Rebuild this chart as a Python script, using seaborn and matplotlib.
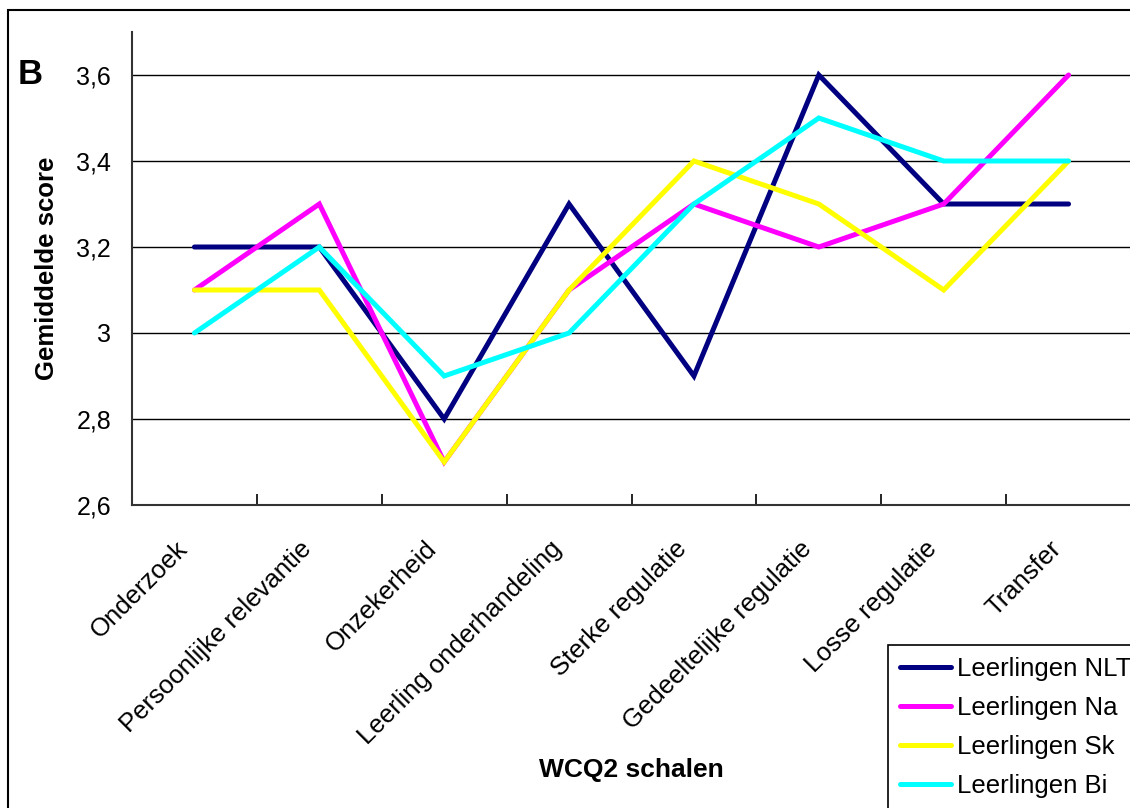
import matplotlib
matplotlib.use("Agg")
import matplotlib.pyplot as plt
import matplotlib.patches as mpatches
from matplotlib.ticker import FixedLocator, FuncFormatter
from matplotlib.transforms import ScaledTranslation
import seaborn as sns
import pandas as pd

categories = ["Onderzoek", "Persoonlijke relevantie", "Onzekerheid",
              "Leerling onderhandeling", "Sterke regulatie",
              "Gedeeltelijke regulatie", "Losse regulatie", "Transfer"]
series_names = ["Leerlingen NLT", "Leerlingen Na", "Leerlingen Sk", "Leerlingen Bi"]
nlt = [3.2, 3.2, 2.8, 3.3, 2.9, 3.6, 3.3, 3.3]
na = [3.1, 3.3, 2.7, 3.1, 3.3, 3.2, 3.3, 3.6]
sk = [3.1, 3.1, 2.7, 3.1, 3.4, 3.3, 3.1, 3.4]
bi = [3.0, 3.2, 2.9, 3.0, 3.3, 3.5, 3.4, 3.4]
y_ticks = [2.6, 2.8, 3.0, 3.2, 3.4, 3.6]
colors = ["#000080", "#FF00FF", "#FFFF00", "#00FFFF"]

rows = []
for name, vals in zip(series_names, [nlt, na, sk, bi]):
    for i, v in enumerate(vals):
        rows.append({"pos": i, "score": v, "groep": name})
df = pd.DataFrame(rows)

sns.set_theme(style="white")
plt.rcParams["font.family"] = ["Liberation Sans", "DejaVu Sans"]
plt.rcParams["text.color"] = "black"
plt.rcParams["axes.labelcolor"] = "black"
plt.rcParams["xtick.color"] = "black"
plt.rcParams["ytick.color"] = "black"

fig = plt.figure(figsize=(11.3, 8.08), dpi=100)
ax = fig.add_axes([132 / 1130, 1 - 505 / 808, 999 / 1130, 473 / 808])

sns.lineplot(data=df, x="pos", y="score", hue="groep", hue_order=series_names,
             palette=colors, linewidth=3.6, ax=ax, legend=True,
             solid_capstyle="round", solid_joinstyle="miter")

ax.set_xlim(-0.5, len(categories) - 0.5)
ax.set_ylim(2.6, 3.7)

# gridlines at the labelled values
ax.yaxis.set_major_locator(FixedLocator(y_ticks))
ax.yaxis.set_major_formatter(FuncFormatter(
    lambda v, p: ("%g" % round(v, 1)).replace(".", ",")))
ax.grid(axis="y", color="black", linewidth=1.0)
ax.set_axisbelow(True)

# category labels at the centres, tick marks between categories
ax.set_xticks(range(len(categories)))
ax.set_xticklabels(categories, rotation=45, ha="right", va="center",
                   rotation_mode="anchor")
ax.set_xticks([i - 0.5 for i in range(len(categories) + 1)], minor=True)
ax.tick_params(axis="x", which="major", length=0, pad=31, labelsize=18.5)
ax.tick_params(axis="x", which="minor", direction="in", length=8, width=1.2,
               color="black", bottom=True)
ax.tick_params(axis="y", direction="in", length=0, pad=15, labelsize=18,
               left=True)

# nudge the slanted labels slightly left and up
shift = ScaledTranslation(-11 / 100, 3 / 100, fig.dpi_scale_trans)
for lbl in ax.get_xticklabels():
    lbl.set_transform(lbl.get_transform() + shift)

for side in ["top", "right"]:
    ax.spines[side].set_visible(False)
for side in ["left", "bottom"]:
    ax.spines[side].set_color("#333333")
    ax.spines[side].set_linewidth(1.5)

ax.set_xlabel("WCQ2 schalen", fontsize=19, fontweight="bold")
ax.xaxis.set_label_coords(0.5, (505 - 770) / 473)
ax.xaxis.label.set_verticalalignment("center")
ax.set_ylabel("Gemiddelde score", fontsize=18.5, fontweight="bold")
ax.yaxis.set_label_coords((47 - 132) / 999, 0.5)
ax.yaxis.label.set_verticalalignment("center")

handles, labels = ax.get_legend_handles_labels()
ax.legend(handles, labels, loc="upper left",
          bbox_to_anchor=(888 / 1130, 1 - 645 / 808), bbox_transform=fig.transFigure,
          borderaxespad=0, frameon=True, fancybox=False, edgecolor="black",
          framealpha=1, fontsize=18.5, handlelength=2.0, handletextpad=0.23,
          labelspacing=0.59, borderpad=0.45)
ax.get_legend().get_frame().set_linewidth(1.2)

fig.text(30 / 1130, 1 - 75 / 808, "B", fontsize=25, fontweight="bold",
         ha="center", va="center")

# outer frame of the figure
fig.patches.append(mpatches.Rectangle((8 / 1130, 0 - 0.01), 1.05, 1 - 10 / 808 + 0.01,
                                      transform=fig.transFigure, fill=False,
                                      edgecolor="black", linewidth=1.5))

fig.savefig("out.png", dpi=100)
